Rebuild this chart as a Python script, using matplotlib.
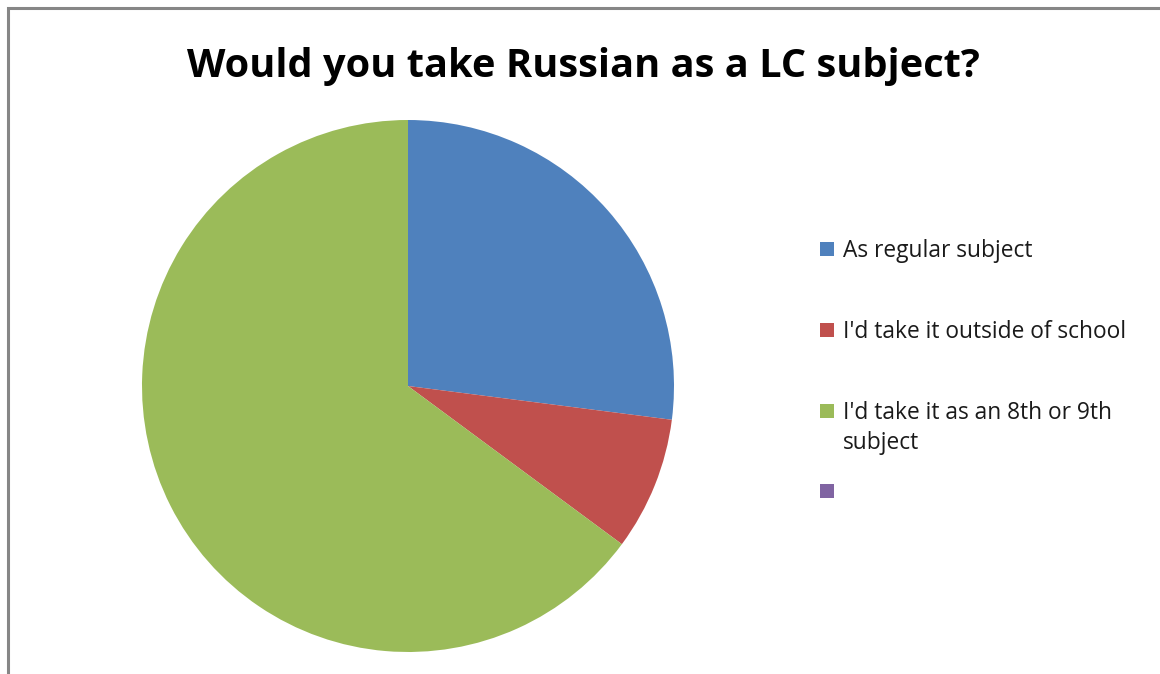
import matplotlib.pyplot as plt
from matplotlib.patches import Rectangle

categories = ["As regular subject", "I'd take it outside of school",
              "I'd take it as an 8th or 9th\nsubject", ""]
values = [10, 3, 24, 0]
colors = ['#4F81BD', '#C0504D', '#9BBB59', '#8064A2']

W, H = 1160, 674
fig = plt.figure(figsize=(W / 100, H / 100), dpi=100)
fig.patch.set_facecolor('white')

# outer chart frame (gray)
fig.add_artist(Rectangle((8 / W, -0.1), 1.2, (H - 8) / H + 0.1, transform=fig.transFigure,
                         fill=False, edgecolor='#868686', linewidth=2.2))

cx, cy, r = 408, 386, 266
ax = fig.add_axes([(cx - r) / W, (H - cy - r) / H, 2 * r / W, 2 * r / H])
ax.pie(values, colors=colors, startangle=90, counterclock=False, radius=1,
       wedgeprops={'linewidth': 0})
ax.set_xlim(-1, 1)
ax.set_ylim(-1, 1)
ax.set_aspect('equal')
ax.axis('off')

fig.text(583 / W, 1 - 77 / H, 'Would you take Russian as a LC subject?', ha='center', va='baseline',
         fontsize=28.6, fontweight='bold', family='Open Sans')

# legend
leg_y = [249, 330, 411, 491]
for lab, col, y in zip(categories, colors, leg_y):
    fig.add_artist(Rectangle((820 / W, 1 - (y + 7) / H), 14 / W, 14 / H, transform=fig.transFigure,
                             facecolor=col, edgecolor='none'))
    lines = lab.split('\n')
    for k, line in enumerate(lines):
        fig.text(843 / W, 1 - (y + 8 + 30 * k) / H, line, ha='left', va='baseline', fontsize=16.4,
                 family='Open Sans', color='#1a1a1a')

plt.savefig('out.png', dpi=100)
